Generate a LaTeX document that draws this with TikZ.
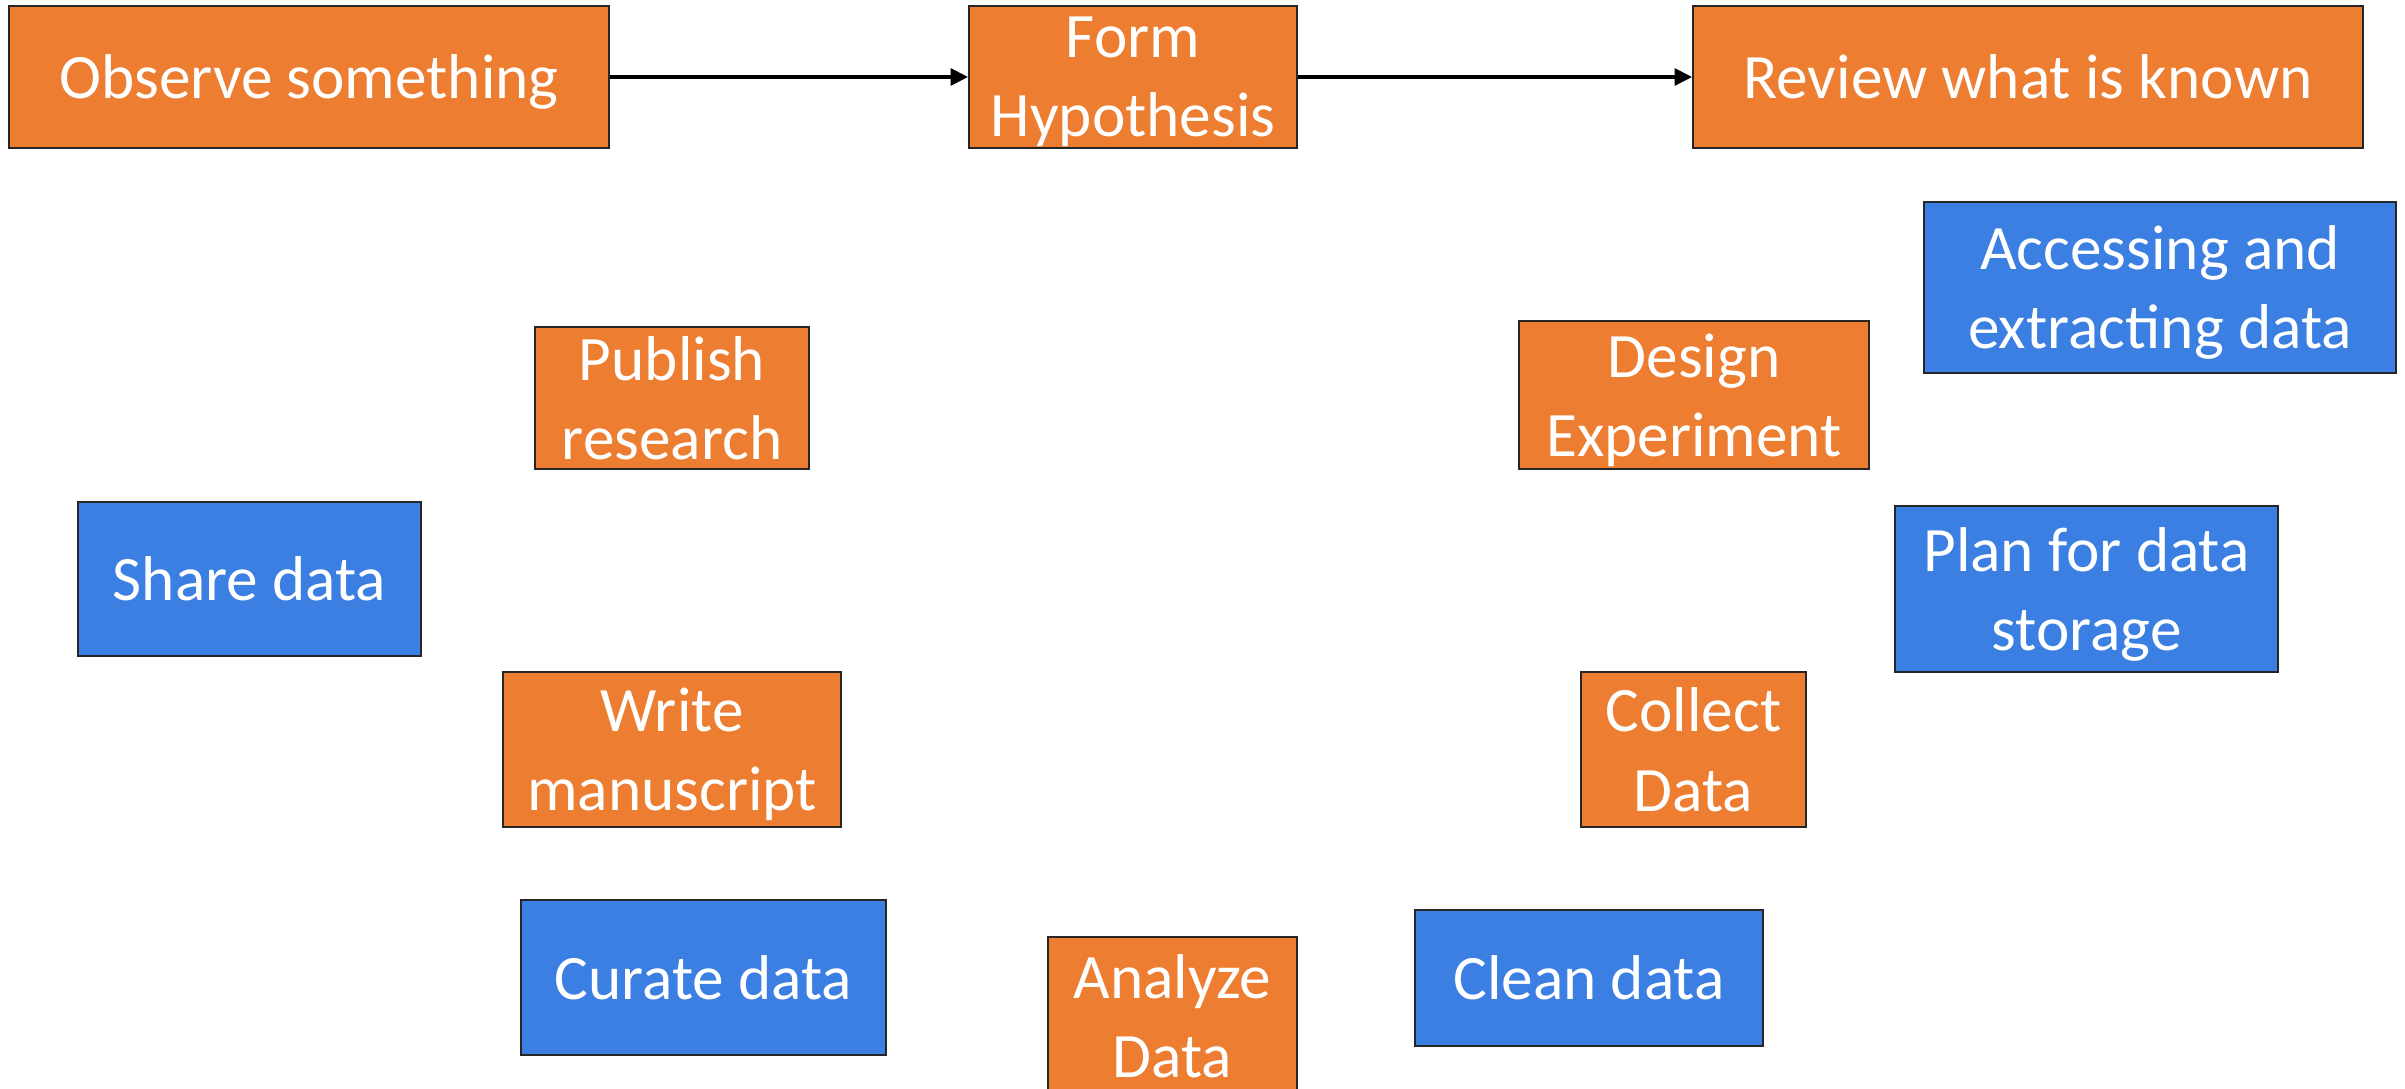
\documentclass[tikz,border=0pt]{standalone}
\usepackage{fontspec}
\setmainfont{Carlito}
\usetikzlibrary{arrows.meta}

\definecolor{stageorange}{RGB}{237,125,49}
\definecolor{stageblue}{RGB}{59,127,226}

\begin{document}
\begin{tikzpicture}[
  every node/.style={font=\fontsize{18}{22.5}\selectfont, text=white, align=center, inner sep=0pt, text depth=0pt},
  stage/.style={draw=black!85, line width=0.5pt, fill=stageorange},
  datastep/.style={draw=black!85, line width=0.5pt, fill=stageblue},
  flow/.style={line width=1pt, -{Triangle[length=5pt,width=4.8pt]}}
  ]
  \useasboundingbox (0,0) rectangle (24.05,-10.89);
  % research cycle (orange)
  \node[stage, minimum width=6.00cm, minimum height=1.42cm] (observe) at (3.09,-0.77) {Observe something};
  \node[stage, minimum width=3.28cm, minimum height=1.42cm] (hypo) at (11.33,-0.77) {Form\\Hypothesis};
  \node[stage, minimum width=6.70cm, minimum height=1.42cm] (review) at (20.28,-0.77) {Review what is known};
  \node[stage, minimum width=3.50cm, minimum height=1.48cm] (design) at (16.94,-3.95) {Design\\Experiment};
  \node[stage, minimum width=2.25cm, minimum height=1.55cm] (collect) at (16.935,-7.495) {Collect\\Data};
  \node[stage, minimum width=2.49cm, minimum height=1.58cm] (analyze) at (11.725,-10.16) {Analyze\\Data};
  \node[stage, minimum width=3.38cm, minimum height=1.55cm] (write) at (6.72,-7.495) {Write\\manuscript};
  \node[stage, minimum width=2.74cm, minimum height=1.42cm] (publish) at (6.72,-3.98) {Publish\\research};
  % data steps (blue)
  \node[datastep, minimum width=4.72cm, minimum height=1.71cm] (access) at (21.60,-2.875) {Accessing and\\extracting data};
  \node[datastep, minimum width=3.83cm, minimum height=1.66cm] (storage) at (20.865,-5.89) {Plan for data\\storage};
  \node[datastep, minimum width=3.48cm, minimum height=1.36cm] (clean) at (15.89,-9.78) {Clean data};
  \node[datastep, minimum width=3.65cm, minimum height=1.55cm] (curate) at (7.035,-9.775) {Curate data};
  \node[datastep, minimum width=3.43cm, minimum height=1.54cm] (share) at (2.495,-5.79) {Share data};
  %
  \draw[flow] (observe) -- (hypo);
  \draw[flow] (hypo) -- (review);
\end{tikzpicture}
\end{document}
